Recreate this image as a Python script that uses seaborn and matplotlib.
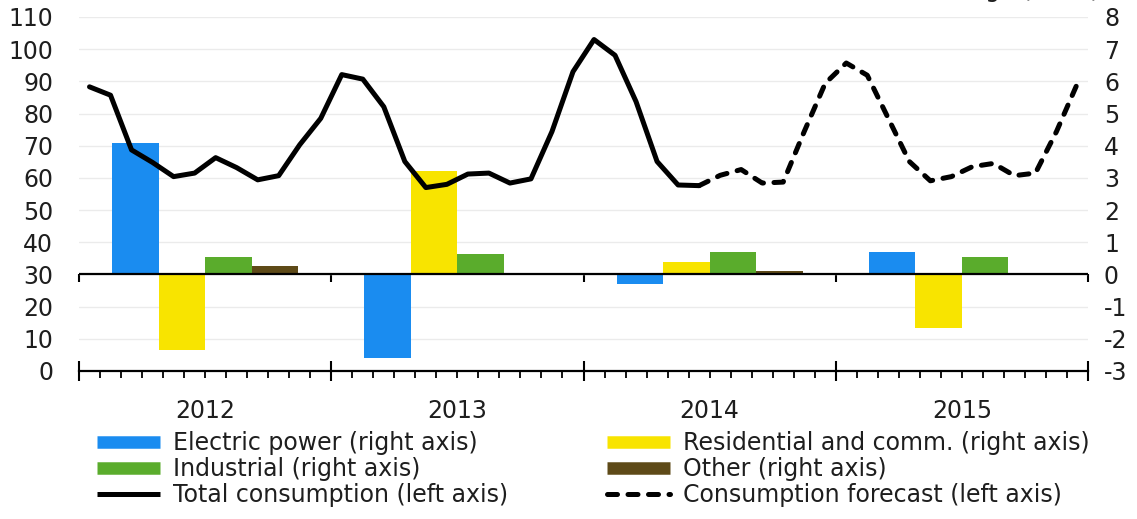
import numpy as np
import pandas as pd
import matplotlib
matplotlib.use("Agg")
import matplotlib.pyplot as plt
from matplotlib.lines import Line2D
import seaborn as sns

# ---- data ---------------------------------------------------------------
# Monthly U.S. natural gas consumption, bcf/d (history Jan 2012 - Jun 2014)
total_consumption = [88.3, 85.7, 68.7, 64.8, 60.4, 61.5, 66.3, 63.2, 59.4, 60.7, 70.3, 78.5,
                     92.1, 90.7, 82.1, 65.1, 57.0, 58.0, 61.2, 61.5, 58.4, 59.7, 74.4, 93.0,
                     103.0, 98.1, 83.7, 65.1, 57.8, 57.6]
# Forecast Jun 2014 - Dec 2015 (starts at the last historical month)
consumption_forecast = [57.6, 60.8, 62.6, 58.4, 58.7, 74.4, 89.4,
                        95.7, 91.9, 78.5, 65.1, 59.1, 60.4, 63.5, 64.5, 60.7, 61.5, 74.4, 89.4]

# Annual change in consumption by sector, bcf/d
years = [2012, 2013, 2014, 2015]
electric_power = [4.1, -2.6, -0.3, 0.7]
residential_comm = [-2.35, 3.2, 0.4, -1.65]
industrial = [0.55, 0.65, 0.7, 0.55]
other = [0.25, 0.05, 0.12, 0.0]

sectors = ["Electric power", "Residential and comm.", "Industrial", "Other"]
sector_colors = {"Electric power": "#1a8cf0", "Residential and comm.": "#f8e400",
                 "Industrial": "#5aac2c", "Other": "#5e4a18"}

year_labels = [str(y) for y in years]
left_ticks = list(range(0, 111, 10))
right_ticks = list(range(-3, 9))

# ---- tidy frames --------------------------------------------------------
months = pd.date_range("2012-01-01", periods=48, freq="MS")
month_pos = (months.year - 2012) * 12 + months.month - 1 + 0.5   # mid-month position

hist = pd.DataFrame({"pos": month_pos[:len(total_consumption)], "bcfd": total_consumption})
fcst_start = len(total_consumption) - 1
fcst = pd.DataFrame({"pos": month_pos[fcst_start:fcst_start + len(consumption_forecast)],
                     "bcfd": consumption_forecast})

bars = pd.DataFrame({
    "mid": np.repeat([(y - 2012) * 12 + 6 for y in years], 4),
    "sector": sectors * len(years),
    "change": np.ravel(np.column_stack([electric_power, residential_comm, industrial, other])),
})

# ---- figure -------------------------------------------------------------
sns.set_theme(style="white")
plt.rcParams["font.family"] = ["DejaVu Sans"]
FS = 17
TXT = "#1e1e1e"

fig = plt.figure(figsize=(11.37, 5.19), dpi=100)
ax = fig.add_axes([79 / 1137, 1 - 371 / 519, (1088 - 79) / 1137, (371 - 17) / 519])
ax2 = ax.twinx()

# sector bars on the right-hand scale
sns.barplot(data=bars, x="mid", y="change", hue="sector", hue_order=sectors,
            palette=sector_colors, native_scale=True, width=0.737, dodge=True,
            errorbar=None, saturation=1, linewidth=0, legend=False, ax=ax)

# consumption lines on the left-hand scale
LW = 3.6
DASH = (0, (2.0, 2.1))
sns.lineplot(data=hist, x="pos", y="bcfd", color="black", ax=ax2)
hist_line = ax2.lines[-1]
sns.lineplot(data=fcst, x="pos", y="bcfd", color="black", ax=ax2)
fcst_line = ax2.lines[-1]
hist_line.set_linewidth(LW)
hist_line.set_solid_joinstyle("round")
fcst_line.set_linewidth(LW)
fcst_line.set_linestyle(DASH)
fcst_line.set_dash_capstyle("round")

# right axis (bars)
ax.set_xlim(0, 48)
ax.set_ylim(-3, 8)
ax.set_yticks(right_ticks)
ax.set_yticklabels([str(t) for t in right_ticks])
ax.yaxis.tick_right()
ax.tick_params(axis="y", length=0, pad=11.5, labelsize=FS, labelcolor=TXT)
ax.yaxis.grid(True, color="#ebebeb", lw=1.0)
ax.set_axisbelow(True)
ax.axhline(0, color="black", lw=1.6, zorder=3)
ax.set_xlabel("")
ax.set_ylabel("")

# month / year ticks on the bottom axis
ax.set_xticks([0, 12, 24, 36, 48])
ax.set_xticks(np.arange(0, 49), minor=True)
ax.tick_params(axis="x", which="major", direction="inout", length=15, width=1.5,
               color="black", labelbottom=False, bottom=True)
ax.tick_params(axis="x", which="minor", direction="out", length=5, width=1.3,
               color="black", bottom=True)
for side in ["top", "left", "right"]:
    ax.spines[side].set_visible(False)
ax.spines["bottom"].set_color("black")
ax.spines["bottom"].set_linewidth(1.6)

# year-boundary ticks along the zero line
zero_axis = ax.secondary_xaxis(3 / 11)
zero_axis.set_xticks([0, 12, 24, 36, 48])
zero_axis.tick_params(direction="out", length=6, width=1.5, color="black", labelbottom=False)
zero_axis.spines["bottom"].set_visible(False)

# year labels under the axis
for lab, y in zip(year_labels, years):
    ax.text((y - 2012) * 12 + 6, -0.113, lab, transform=ax.get_xaxis_transform(),
            ha="center", va="center", fontsize=FS, color=TXT)

# left axis (lines)
ax2.set_ylim(0, 110)
ax2.set_yticks(left_ticks)
ax2.set_yticklabels([str(t) for t in left_ticks])
ax2.yaxis.tick_left()
ax2.tick_params(axis="y", length=0, pad=18.5, labelsize=FS, labelcolor=TXT)
ax2.set_xlabel("")
ax2.set_ylabel("")
ax2.grid(False)
for side in ["top", "bottom", "left", "right"]:
    ax2.spines[side].set_visible(False)

# unit caption at the top of the right axis
fig.text(1100 / 1137, 1 + 3 / 519, "annual change (bcf/d)", ha="right", va="baseline",
         fontsize=FS, color=TXT)

# legend
bar_lw = 9
handles = [
    Line2D([], [], color=sector_colors["Electric power"], lw=bar_lw, solid_capstyle="butt"),
    Line2D([], [], color=sector_colors["Industrial"], lw=bar_lw, solid_capstyle="butt"),
    Line2D([], [], color="black", lw=LW, solid_capstyle="butt"),
    Line2D([], [], color=sector_colors["Residential and comm."], lw=bar_lw, solid_capstyle="butt"),
    Line2D([], [], color=sector_colors["Other"], lw=bar_lw, solid_capstyle="butt"),
    Line2D([], [], color="black", lw=LW, linestyle=DASH, dash_capstyle="round"),
]
labels = ["Electric power (right axis)", "Industrial (right axis)",
          "Total consumption (left axis)", "Residential and comm. (right axis)",
          "Other (right axis)", "Consumption forecast (left axis)"]
fig.legend(handles, labels, loc="upper left", bbox_to_anchor=(97 / 1137, 1 - 431 / 519),
           ncol=2, frameon=False, fontsize=FS, labelcolor=TXT, borderpad=0,
           borderaxespad=0, handlelength=2.67, handletextpad=0.55, columnspacing=4.2,
           labelspacing=0.09)

fig.savefig("out.png", dpi=100)
